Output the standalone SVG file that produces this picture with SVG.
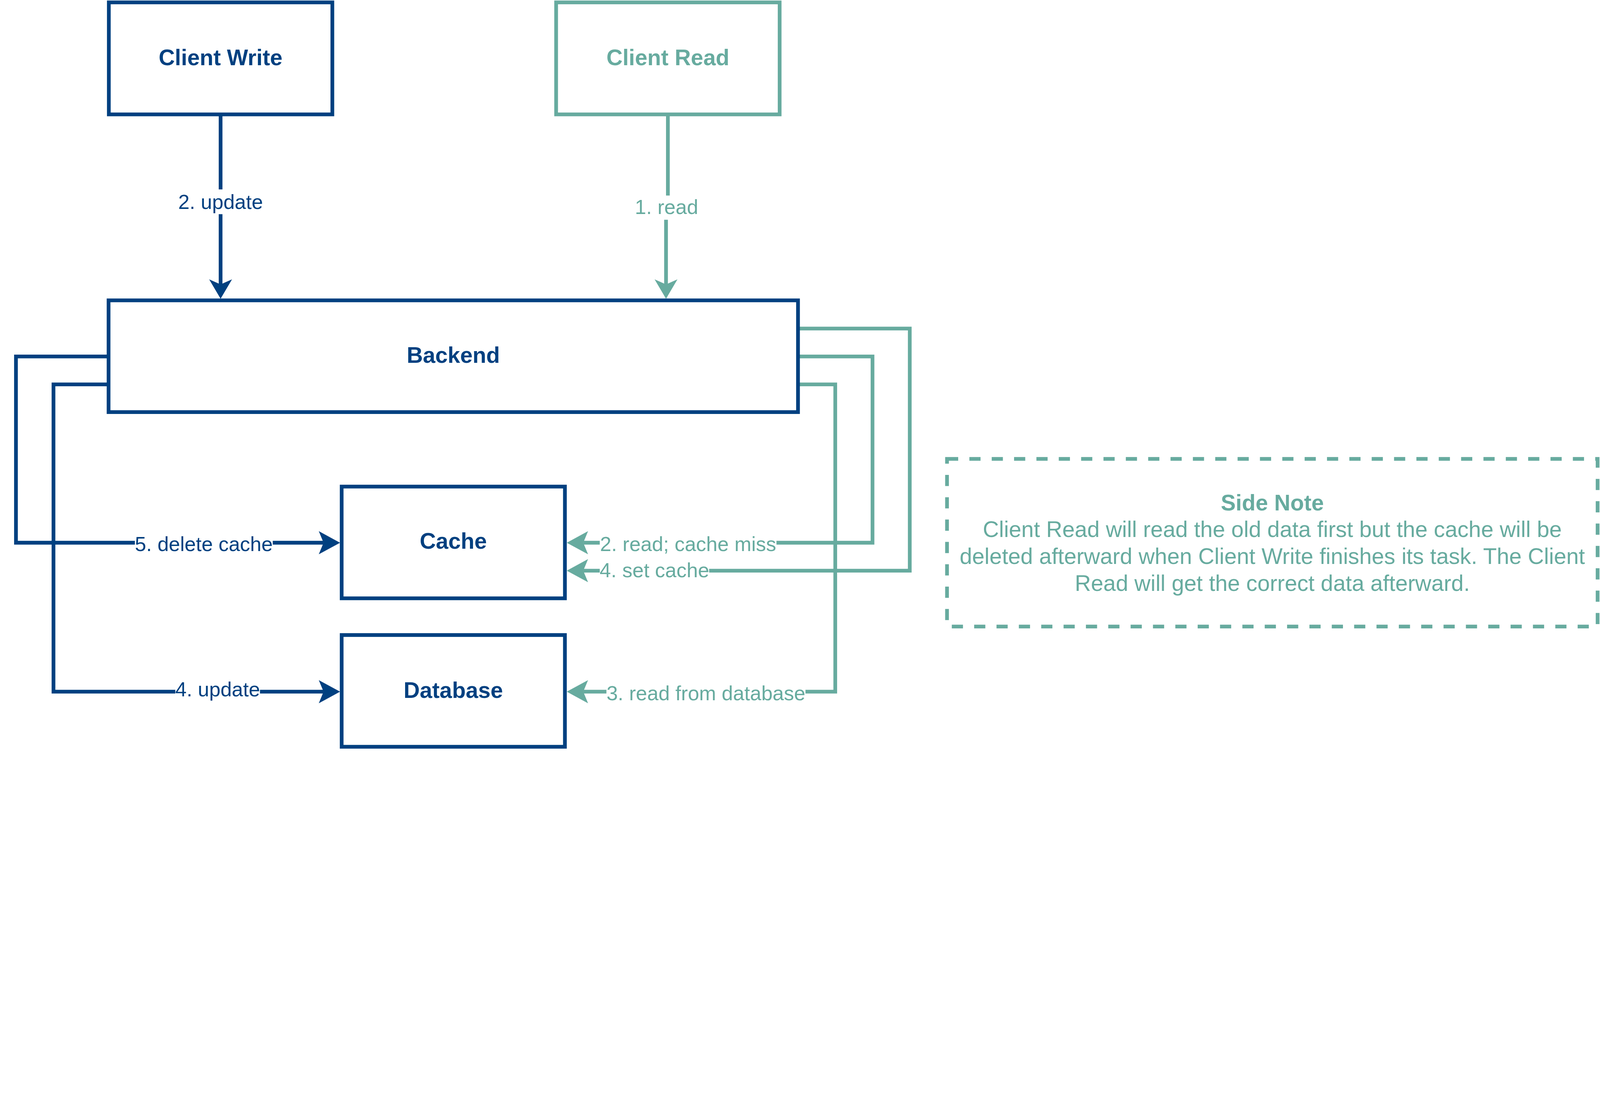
<svg xmlns="http://www.w3.org/2000/svg" width="6013" height="2814" viewBox="0 0 6013 2814" style="width:100%;height:100%" preserveAspectRatio="xMinYMin meet">
<style>
.box{fill:#ffffff;stroke-width:14}
.b{stroke:#004080}
.t{stroke:#67AB9F}
.ln{fill:none;stroke-width:14}
.title{font-family:"Liberation Sans",Arial,Helvetica,sans-serif;font-size:84px;font-weight:bold;text-anchor:middle}
.lbl{font-family:"Liberation Sans",Arial,Helvetica,sans-serif;font-size:76.4px;text-anchor:middle}
.note{font-family:"Liberation Sans",Arial,Helvetica,sans-serif;font-size:84px;text-anchor:middle;fill:#67AB9F}
.fb{fill:#004080}
.ft{fill:#67AB9F}
.bg{fill:#ffffff}
</style>
<defs>
<marker id="bH" markerUnits="userSpaceOnUse" viewBox="-30 -50 100 100" refX="0" refY="0" markerWidth="100" markerHeight="100" orient="auto" overflow="visible"><path d="M62 0 L-18 -43.5 L0 0 L-18 43.5 Z" fill="#004080"/></marker>
<marker id="tH" markerUnits="userSpaceOnUse" viewBox="-30 -50 100 100" refX="0" refY="0" markerWidth="100" markerHeight="100" orient="auto" overflow="visible"><path d="M62 0 L-18 -43.5 L0 0 L-18 43.5 Z" fill="#67AB9F"/></marker>
<marker id="bV" markerUnits="userSpaceOnUse" viewBox="-30 -50 100 100" refX="0" refY="0" markerWidth="100" markerHeight="100" orient="auto" overflow="visible"><path d="M54 0 L-19 -43 L0 0 L-19 43 Z" fill="#004080"/></marker>
<marker id="tV" markerUnits="userSpaceOnUse" viewBox="-30 -50 100 100" refX="0" refY="0" markerWidth="100" markerHeight="100" orient="auto" overflow="visible"><path d="M54 0 L-19 -43 L0 0 L-19 43 Z" fill="#67AB9F"/></marker>
</defs>
<g id="connectors">
<path class="ln b" d="M829 430 V1069" marker-end="url(#bV)"/>
<path class="ln t" d="M2510 430 V780 H2503 V1069" marker-end="url(#tV)"/>
<path class="ln b" d="M408 1340 H60 V2040 H1216" marker-end="url(#bH)"/>
<path class="ln b" d="M408 1445 H201 V2600 H1216" marker-end="url(#bH)"/>
<path class="ln t" d="M2999 1340 H3279 V2040 H2192" marker-end="url(#tH)"/>
<path class="ln t" d="M2999 1235 H3419 V2145 H2192" marker-end="url(#tH)"/>
<path class="ln t" d="M2999 1445 H3139 V2600 H2192" marker-end="url(#tH)"/>
<g id="edge-labels">
<rect class="bg" x="670" y="712" width="318" height="93"/>
<text class="lbl fb" x="829" y="785">2. update</text>
<rect class="bg" x="2386" y="735" width="238" height="91"/>
<text class="lbl ft" x="2505" y="805">1. read</text>
<rect class="bg" x="507" y="2004" width="518" height="88"/>
<text class="lbl fb" x="766" y="2072">5. delete cache</text>
<rect class="bg" x="659" y="2550" width="318" height="88"/>
<text class="lbl fb" x="818" y="2617">4. update</text>
<rect class="bg" x="2254" y="2003" width="664" height="88"/>
<text class="lbl ft" x="2586" y="2071">2. read; cache miss</text>
<rect class="bg" x="2254" y="2102" width="411" height="88"/>
<text class="lbl ft" x="2459.5" y="2170">4. set cache</text>
<rect class="bg" x="2279" y="2564" width="748" height="88"/>
<text class="lbl ft" x="2653" y="2632">3. read from database</text>
</g>
</g>
<g id="client-write">
<rect class="box b" x="409" y="9" width="840" height="421"/>
<text class="title fb" x="829" y="245">Client Write</text>
</g>
<g id="client-read">
<rect class="box t" x="2090" y="9" width="840" height="421"/>
<text class="title ft" x="2510" y="245">Client Read</text>
</g>
<g id="backend">
<rect class="box b" x="408" y="1129" width="2591" height="420"/>
<text class="title fb" x="1703.5" y="1364">Backend</text>
</g>
<g id="cache">
<rect class="box b" x="1284" y="1829" width="839" height="420"/>
<text class="title fb" x="1703.5" y="2063">Cache</text>
</g>
<g id="database">
<rect class="box b" x="1284" y="2387" width="839" height="420"/>
<text class="title fb" x="1703.5" y="2623">Database</text>
</g>
<g id="side-note">
<rect x="3559" y="1725" width="2445" height="630" fill="#ffffff" stroke="#67AB9F" stroke-width="14" stroke-dasharray="42 42"/>
<text class="note" x="4781.5" y="1918" font-weight="bold">Side Note</text>
<text class="note" x="4781.5" y="2019">Client Read will read the old data first but the cache will be</text>
<text class="note" x="4781.5" y="2120">deleted afterward when Client Write finishes its task. The Client</text>
<text class="note" x="4781.5" y="2221">Read will get the correct data afterward.</text>
</g>
</svg>
